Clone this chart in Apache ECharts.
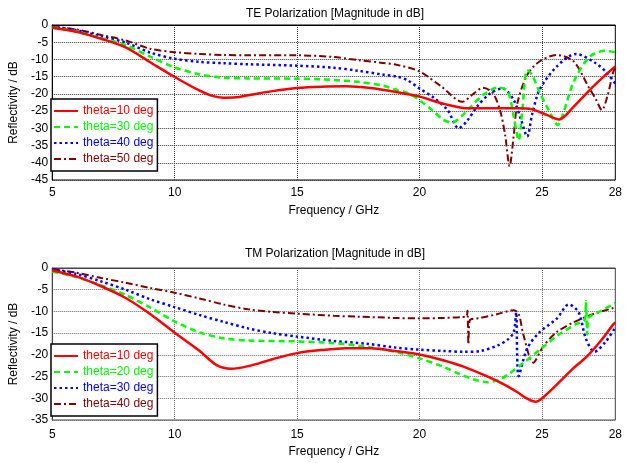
<!DOCTYPE html>
<html>
<head>
<meta charset="utf-8">
<script src="https://cdn.jsdelivr.net/npm/echarts@6/dist/echarts.min.js"></script>
<style>
  html, body { margin: 0; padding: 0; background: #fff; }
  #chartTE { width: 625px; height: 240px; }
  #chartTM { width: 625px; height: 223px; }
</style>
</head>
<body>
<div id="chartTE"></div>
<div id="chartTM"></div>
<script type="text/javascript">
// TE polarization, [frequency GHz, reflectivity dB]
var teNames = ['theta=10 deg', 'theta=30 deg', 'theta=40 deg', 'theta=50 deg'];
var teTheta10 = [[5,-0.8],[6,-2],[7,-4],[8,-6.5],[9,-10.8],[10,-15.1],[11,-19],[11.5,-20.5],[12,-21.1],[12.5,-21],[13,-20.4],[14,-19.2],[15,-18.3],[16,-17.9],[17,-17.8],[18,-18.3],[19,-19.4],[20,-20.8],[21,-22.9],[22,-24.2],[23,-24.2],[24,-24.2],[24.6,-24.5],[25.2,-26.1],[25.7,-27.4],[26.3,-23.7],[26.95,-18.9],[27.6,-14.5],[28,-12]];
var teTheta30 = [[5,-0.7],[6,-1.9],[7,-3.8],[8,-5.8],[9,-9.2],[10,-12.3],[11,-14.3],[12,-15.3],[13,-15.5],[15,-15.6],[16,-15.8],[17.5,-16.5],[18.5,-17.6],[19.1,-18.9],[19.5,-19.7],[20,-21.8],[20.5,-24.6],[21,-27.6],[21.35,-28.3],[21.7,-26.6],[22.1,-23.7],[22.6,-20.3],[23.2,-18.2],[23.6,-19.2],[23.85,-26.6],[24.05,-33.5],[24.2,-24.7],[24.4,-13.1],[24.6,-14.5],[24.9,-19.4],[25.3,-25],[25.65,-29],[25.9,-25],[26.3,-16.5],[26.95,-9.2],[27.6,-7.5],[28,-7.9]];
var teTheta40 = [[5,-0.5],[6,-1.5],[7,-3.3],[8,-5.1],[9,-8],[10,-9.8],[11,-10.7],[12,-11.1],[13,-11.4],[15,-11.8],[16.5,-12.4],[17.5,-13.3],[18.5,-14.4],[19.1,-15],[19.5,-16],[20,-18.4],[20.6,-21.2],[21.15,-24.7],[21.6,-30],[21.95,-27.8],[22.35,-23.7],[22.9,-19.8],[23.4,-18.4],[23.85,-21.8],[24.15,-27.5],[24.4,-32.4],[24.6,-26],[24.9,-18.9],[25.6,-12.1],[26.4,-8.4],[27.2,-11.1],[27.6,-13.5],[28,-17]];
var teTheta50 = [[5,-0.5],[6,-1.3],[7,-2.9],[8,-4.5],[9,-6.9],[10,-7.9],[11,-8.4],[12,-8.7],[13,-8.8],[15,-8.8],[16.5,-9.3],[17.5,-10.2],[18.5,-11],[19.1,-11.6],[20,-13.5],[20.9,-17.9],[21.75,-22.3],[22.2,-20],[22.6,-18.2],[23,-19.8],[23.3,-25],[23.5,-32],[23.68,-41],[23.85,-32],[24,-22.7],[24.4,-14.5],[24.9,-10.6],[25.6,-8.7],[26.3,-10.6],[26.9,-17.9],[27.2,-21.5],[27.45,-24.7],[27.7,-20],[27.9,-14],[28,-12]];

// TM polarization
var tmNames = ['theta=10 deg', 'theta=20 deg', 'theta=30 deg', 'theta=40 deg'];
var tmTheta10 = [[5,-0.5],[6,-2],[7,-4.2],[8,-6.9],[9,-10.6],[10,-14.9],[11,-19],[11.7,-22.3],[12.3,-23.2],[13,-22.6],[14,-21],[15,-19.6],[16,-18.9],[17,-18.5],[18,-18.5],[19,-19.1],[20,-19.9],[21,-21.3],[21.8,-22.7],[22.7,-24.8],[23.45,-26.8],[24,-28.6],[24.4,-30.1],[24.75,-30.8],[25.05,-29.8],[25.6,-26.9],[26.3,-23],[26.8,-20.6],[27.4,-16.8],[27.9,-13.1],[28,-12.5]];
var tmTheta20 = [[5,-0.8],[6,-2.1],[7,-4],[8,-6.2],[9,-9.1],[10,-12.3],[11,-14.8],[12,-16.2],[13,-16.7],[15,-16.9],[16.5,-17.3],[17.8,-18.1],[19,-19.3],[20,-20.8],[21,-22.8],[21.55,-24.2],[22.2,-25.6],[22.8,-26.3],[23.3,-25.6],[23.6,-24.6],[24.3,-21.6],[24.9,-18.9],[25.7,-15.3],[26.4,-12.9],[26.75,-11.9],[26.8,-7.6],[26.85,-15.3],[26.9,-11.6],[27.4,-9.9],[28,-8.1]];
var tmTheta30 = [[5,-0.3],[6,-1.4],[7,-3.1],[8,-5],[9,-7.2],[10,-9],[11,-10.8],[12,-12.4],[13,-13.9],[14,-15],[15,-15.8],[16.5,-16.8],[17.8,-17.4],[19,-18.3],[20,-18.8],[21,-19.1],[21.8,-19.3],[22.5,-19.1],[23.2,-17.8],[23.6,-16.5],[23.85,-14.8],[23.95,-10.2],[24.05,-24.9],[24.4,-18.5],[24.9,-14.8],[25.6,-11.7],[26.1,-8.4],[26.5,-10.2],[26.8,-16.3],[27.15,-19.3],[27.6,-17],[28,-13.7]];
var tmTheta40 = [[5,-0.2],[6,-1.1],[7,-2.3],[8,-3.4],[9,-4.6],[10,-5.7],[11,-7],[12,-8.4],[13,-9.5],[14,-10.1],[15,-10.5],[16.5,-11],[17.5,-11.2],[19,-11.5],[20,-11.6],[21,-11.5],[21.7,-11.3],[21.93,-11.1],[21.96,-9.8],[22.0,-17.6],[22.05,-12.1],[22.5,-11.5],[23.2,-10.6],[23.85,-9.7],[24.05,-10.5],[24.25,-15.5],[24.65,-21.8],[25.05,-18.1],[25.6,-14.8],[26.3,-12.5],[27.1,-10.6],[28,-9.1]];

var colors = ['#ff0000', '#00ff00', '#0000ff', '#800000'];
var dashes = ['solid', [6, 4], [2.5, 3], [7, 3, 2, 3]];
var widths = [2.5, 2.5, 2.5, 2];
var fontFamily = 'Liberation Sans';

function buildOption(cfg) {
    return {
        animation: false,
        textStyle: { fontFamily: fontFamily },
        title: {
            text: cfg.title,
            left: 335,
            top: 8,
            padding: 0,
            textAlign: 'center',
            textStyle: { fontSize: 12, fontWeight: 'normal', color: '#000', fontFamily: fontFamily }
        },
        legend: {
            orient: 'vertical',
            left: 51,
            top: cfg.legendTop,
            backgroundColor: '#fff',
            borderColor: '#000',
            borderWidth: 1.5,
            borderRadius: 0,
            padding: [6, 4, 6, 2],
            itemGap: 4,
            itemWidth: 24,
            itemHeight: 14,
            itemStyle: { opacity: 0 },
            textStyle: { fontSize: 12, fontFamily: fontFamily },
            data: cfg.names.map(function (n, i) {
                return { name: n, textStyle: { color: colors[i] } };
            })
        },
        grid: {
            left: 51,
            top: cfg.gridTop,
            width: 568,
            height: 155,
            show: true,
            borderColor: cfg.axisColor,
            borderWidth: 1
        },
        xAxis: {
            type: 'value',
            min: 5,
            max: 28,
            interval: 5,
            name: 'Frequency / GHz',
            nameLocation: 'middle',
            nameGap: cfg.xNameGap,
            nameTextStyle: { fontSize: 12, color: '#000', fontFamily: fontFamily },
            axisLine: { lineStyle: { color: cfg.axisColor, width: 1 } },
            axisTick: { show: false },
            axisLabel: { fontSize: 12, color: '#000', margin: cfg.xLabelMargin, fontFamily: fontFamily },
            splitLine: { show: true, lineStyle: { type: 'dotted', color: cfg.gridColor, width: 1 } }
        },
        yAxis: {
            type: 'value',
            min: cfg.yMin,
            max: 0,
            interval: 5,
            name: 'Reflectivity / dB',
            nameLocation: 'middle',
            nameRotate: 90,
            nameGap: cfg.yNameGap,
            nameTextStyle: { fontSize: 12, color: '#000', fontFamily: fontFamily },
            axisLine: { show: true, lineStyle: { color: cfg.axisColor, width: 1 } },
            axisTick: { show: false },
            axisLabel: { fontSize: 12, color: '#000', margin: 4, fontFamily: fontFamily },
            splitLine: { show: true, lineStyle: { type: 'dotted', color: cfg.gridColor, width: 1 } }
        },
        series: cfg.data.map(function (d, i) {
            return {
                name: cfg.names[i],
                type: 'line',
                data: d,
                symbol: 'none',
                smooth: 0.3,
                lineStyle: { color: colors[i], width: widths[i], type: dashes[i] },
                itemStyle: { color: colors[i] },
                z: 5 - i
            };
        })
    };
}

var chartTE = echarts.init(document.getElementById('chartTE'));
chartTE.setOption(buildOption({
    title: 'TE Polarization [Magnitude in dB]',
    names: teNames,
    data: [teTheta10, teTheta30, teTheta40, teTheta50],
    gridTop: 25,
    legendTop: 99,
    yMin: -45,
    xNameGap: 25,
    yNameGap: 30,
    xLabelMargin: 7,
    axisColor: '#000',
    gridColor: '#333'
}));

var chartTM = echarts.init(document.getElementById('chartTM'));
chartTM.setOption(buildOption({
    title: 'TM Polarization [Magnitude in dB]',
    names: tmNames,
    data: [tmTheta10, tmTheta20, tmTheta30, tmTheta40],
    gridTop: 28,
    legendTop: 104,
    yMin: -35,
    xNameGap: 26,
    yNameGap: 28,
    xLabelMargin: 9,
    axisColor: '#444',
    gridColor: '#666'
}));
</script>
</body>
</html>
